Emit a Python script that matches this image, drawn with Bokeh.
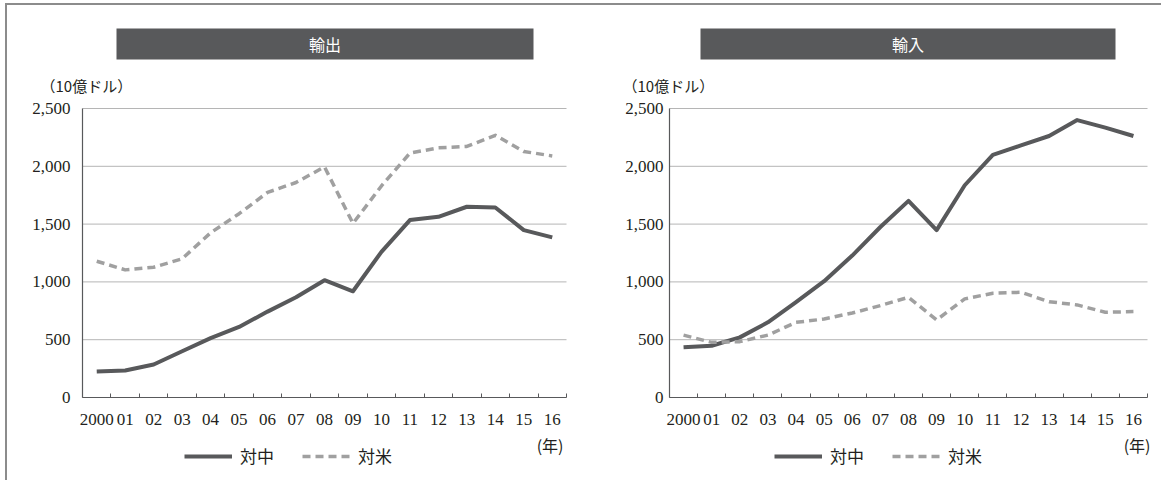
from bokeh.plotting import figure
from bokeh.layouts import row
from bokeh.models import (FixedTicker, NumeralTickFormatter, Range1d, BoxAnnotation,
                          Label, Legend, LegendItem)
from bokeh.embed import file_html
from bokeh.resources import INLINE

# ---- data (10億ドル) ----
years = ["2000", "01", "02", "03", "04", "05", "06", "07", "08",
         "09", "10", "11", "12", "13", "14", "15", "16"]
export_china = [225, 234, 285, 400, 514, 610, 743, 867, 1015,
                919, 1260, 1535, 1563, 1650, 1644, 1448, 1385]
export_us = [1179, 1104, 1127, 1200, 1425, 1590, 1774, 1860, 1995,
             1506, 1830, 2114, 2160, 2172, 2268, 2128, 2090]
import_china = [434, 448, 520, 650, 824, 1006, 1228, 1475, 1701,
                1448, 1836, 2098, 2181, 2262, 2400, 2334, 2262]
import_us = [540, 477, 483, 540, 650, 679, 731, 795, 867,
             671, 853, 902, 910, 829, 801, 737, 743]
y_ticks = [0, 500, 1000, 1500, 2000, 2500]
grid_vals = [500, 1000, 1500, 2000, 2500]
panel_titles = ["輸出", "輸入"]
series_names = ["対中", "対米"]
unit_label = "（10億ドル）"
year_label = "(年)"

SERIF = "Liberation Serif"
JP = "Noto Sans CJK JP"
DARK = "#58595b"
LIGHT = "#a0a0a0"
TEXT = "#231f20"
GRID = "#b5b5b5"

# ---- page layout in pixels ----
ORIGIN_X, ORIGIN_Y = 7, 5          # where the figures start on the page
H = 475
AX_TOP, AX_BOTTOM = 108, 397       # plot area (page y)


def sy(page_y):
    """page y -> screen y measured up from figure bottom"""
    return H - (page_y - ORIGIN_Y)


def make_panel(title, china, us, fig_left, width, ax_left, ax_right, ystandoff,
               bar_l, bar_r, unit_x, year_right, legend_x):
    n = len(years)
    ax_l = ax_left - fig_left
    ax_r = ax_right - fig_left
    ux = (ax_r - ax_l) / n                         # px per category
    uy = (AX_BOTTOM - AX_TOP) / 2500.0             # px per value
    bottom_px = sy(AX_BOTTOM)
    top_px = sy(AX_TOP)
    xr = Range1d(-ax_l / ux, n + (width - ax_r) / ux)
    yr = Range1d(-bottom_px / uy, 2500 + (H - top_px) / uy)

    p = figure(width=width, height=H, output_backend="svg", toolbar_location=None,
               x_range=xr, y_range=yr, min_border=0)
    p.outline_line_color = None
    p.background_fill_color = "white"
    p.border_fill_color = "white"
    p.xgrid.visible = False
    p.ygrid.visible = False

    # horizontal grid lines across the plot area only
    p.segment(x0=[0] * len(grid_vals), x1=[n] * len(grid_vals),
              y0=grid_vals, y1=grid_vals, line_color=GRID, line_width=1)

    xs = [i + 0.5 for i in range(n)]
    r1 = p.line(xs, china, line_color=DARK, line_width=4, line_join="round")
    r2 = p.line(xs, us, line_color=LIGHT, line_width=3.5, line_dash="8 5",
                line_join="round")

    # x axis: labels at category centres, tick marks at category boundaries
    xa = p.xaxis[0]
    xa.fixed_location = 0
    xa.bounds = (0, n)
    xa.ticker = FixedTicker(ticks=xs, minor_ticks=list(range(n + 1)))
    xa.major_label_overrides = {x: years[i] for i, x in enumerate(xs)}
    xa.major_tick_in = 0
    xa.major_tick_out = 0
    xa.minor_tick_in = 4
    xa.minor_tick_out = 0
    xa.minor_tick_line_color = DARK
    xa.axis_line_color = DARK
    xa.axis_line_width = 1.2
    xa.major_label_standoff = 16
    xa.major_label_text_font = SERIF
    xa.major_label_text_font_size = "17px"
    xa.major_label_text_color = TEXT

    ya = p.yaxis[0]
    ya.fixed_location = 0
    ya.bounds = (0, 2500)
    ya.ticker = FixedTicker(ticks=y_ticks)
    ya.formatter = NumeralTickFormatter(format="0,0")
    ya.major_tick_in = 0
    ya.major_tick_out = 0
    ya.minor_tick_line_color = None
    ya.axis_line_color = DARK
    ya.axis_line_width = 1.2
    ya.major_label_standoff = ystandoff
    ya.major_label_text_font = SERIF
    ya.major_label_text_font_size = "17px"
    ya.major_label_text_color = TEXT

    # title bar
    p.add_layout(BoxAnnotation(left=bar_l - fig_left, right=bar_r - fig_left,
                               top=sy(28), bottom=sy(59),
                               left_units="screen", right_units="screen",
                               top_units="screen", bottom_units="screen",
                               fill_color=DARK, fill_alpha=1, line_color=None))
    p.add_layout(Label(x=(bar_l + bar_r) / 2 - fig_left, y=sy(43.5),
                       x_units="screen", y_units="screen", text=title,
                       text_align="center", text_baseline="middle",
                       text_color="white", text_font=JP, text_font_size="16px"))
    # unit label
    p.add_layout(Label(x=unit_x - fig_left, y=sy(85), x_units="screen",
                       y_units="screen", text=unit_label, text_align="left",
                       text_baseline="middle", text_color=TEXT, text_font=JP,
                       text_font_size="15px"))
    # year label
    p.add_layout(Label(x=year_right - fig_left, y=sy(444), x_units="screen",
                       y_units="screen", text=year_label, text_align="right",
                       text_baseline="middle", text_color=TEXT, text_font=JP,
                       text_font_size="16px"))

    legend = Legend(items=[LegendItem(label=series_names[0], renderers=[r1]),
                           LegendItem(label=series_names[1], renderers=[r2])],
                    orientation="horizontal",
                    location=(legend_x - fig_left, sy(458) - 10),
                    glyph_width=48, glyph_height=20, label_standoff=8, spacing=28,
                    padding=0, margin=0, border_line_color=None,
                    background_fill_alpha=0, label_text_font=JP,
                    label_text_font_size="17px", label_text_color=TEXT)
    p.add_layout(legend)
    return p


p1 = make_panel(panel_titles[0], export_china, export_us, fig_left=ORIGIN_X,
                width=605, ax_left=82, ax_right=566, ystandoff=12,
                bar_l=116, bar_r=533, unit_x=40, year_right=563, legend_x=184)
p2 = make_panel(panel_titles[1], import_china, import_us, fig_left=ORIGIN_X + 605,
                width=549, ax_left=669, ax_right=1147, ystandoff=6,
                bar_l=700, bar_r=1115, unit_x=622, year_right=1150, legend_x=774)

layout = row(p1, p2, styles={"border-top": "2px solid #8c8c8c",
                             "border-left": "2px solid #8c8c8c",
                             "margin-left": "5px", "margin-top": "3px"})

with open("out.html", "w") as f:
    f.write(file_html(layout, INLINE))
